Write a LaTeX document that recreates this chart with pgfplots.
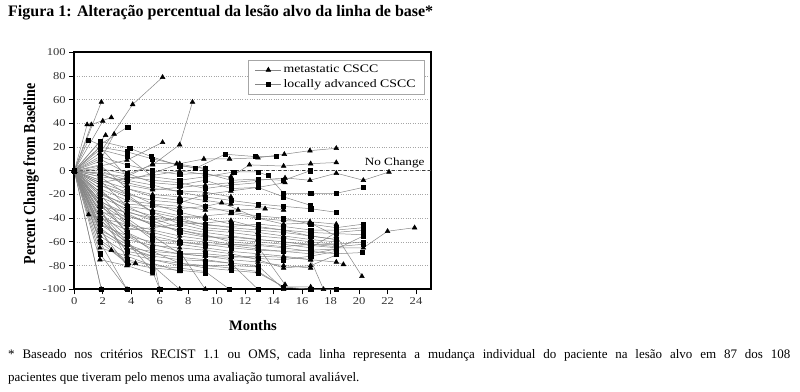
\documentclass[border=0pt]{standalone}
\usepackage{fontspec}
\setmainfont{Liberation Serif}
\newfontfamily\widefont[FakeStretch=1.2]{Liberation Serif}
\usepackage{pgfplots}
\pgfplotsset{compat=1.18}
\begin{document}
\begin{tikzpicture}[x=1pt,y=1pt]
\useasboundingbox (0pt,0pt) rectangle (800pt,391pt);
\node[anchor=base west, inner sep=0, font=\bfseries\fontsize{16}{18}\selectfont] at (8pt,374pt) {Figura 1: Alteração percentual da lesão alvo da linha de base*};
\begin{axis}[
  at={(74.3pt,101.7pt)}, anchor=south west, scale only axis,
  width=356.4pt, height=237pt,
  xmin=0, xmax=25.03, ymin=-100, ymax=100,
  xtick={0,2,...,24}, ytick={-100,-80,...,100},
  tick align=outside, major tick length=5pt,
  xtick pos=bottom, ytick pos=left,
  axis line style={black, line width=1.8pt},
  tick style={black, line width=0.9pt},
  ymajorgrids, grid style={gray!70, dotted, line width=0.6pt},
  ticklabel style={font=\widefont\fontsize{10.5}{12}\selectfont, text=black!80},
  /pgf/number format/assume math mode=true,
  clip=false,
  met/.style={black!48, line width=0.5pt, mark=triangle*, mark size=2.7pt, mark options={black, fill=black, solid}},
  la/.style={black!48, line width=0.5pt, mark=square*, mark size=2.1pt, mark options={black, fill=black, solid}},
  legend image code/.code={\draw[mark repeat=2,mark phase=2] plot coordinates {(0pt,0pt) (13pt,0pt) (26pt,0pt)};},
  legend style={at={(0.487,0.967)}, anchor=north west, draw=gray!70, line width=0.5pt, font=\widefont\fontsize{11.5}{13}\selectfont, inner xsep=7pt, inner ysep=3pt, row sep=1pt, cells={anchor=west}},
]
\addlegendimage{met}
\addlegendentry{metastatic CSCC}
\addlegendimage{la}
\addlegendentry{locally advanced CSCC}
\addplot[forget plot, black!75, dashed, line width=0.8pt] coordinates {(0,0) (25.03,0)};
\node[font=\widefont\fontsize{11}{12}\selectfont] at (axis cs:22.5,7) {No Change};
\pgfplotsset{every axis plot/.append style={forget plot}}
% metastatic
\addplot[met] coordinates {(0,0)(1.9,58)};
\addplot[met] coordinates {(0,0)(1.8,15)(4.1,56)(6.2,79)};
\addplot[met] coordinates {(0,0)(0.9,39)};
\addplot[met] coordinates {(0,0)(1.2,39)(2.6,45)};
\addplot[met] coordinates {(0,0)(2.0,42)};
\addplot[met] coordinates {(0,0)(2.2,30)};
\addplot[met] coordinates {(0,0)(1.8,8)(2.8,31)};
\addplot[met] coordinates {(0,0)(1.8,4)(3.7,9)(6.2,24)};
\addplot[met] coordinates {(0,0)(1.8,2)(3.7,-3)(5.5,5)(7.4,22)(8.3,58)};
\addplot[met] coordinates {(0,0)(1.8,-5)(3.7,-8)(5.5,-2)(7.4,6)(9.1,10)(10.9,10)(12.9,11)(14.75,14)(16.55,17)(18.4,19)};
\addplot[met] coordinates {(0,0)(1.8,-10)(3.7,-6)(5.5,-4)(7.4,0)(9.2,-3)(11,-5)(12.3,5)(14.7,4)(16.6,6)(18.4,7)};
\addplot[met] coordinates {(0,0)(1.8,-2)(3.7,-12)(5.5,-16)(7.4,-14)(9.2,-12)(11.0,-10)(12.9,-8)(14.8,-6)(16.55,-8)(18.4,-2)(20.3,-8)(22.1,-1)};
\addplot[met] coordinates {(0,0)(1.0,-37)(1.8,-40)(3.7,-45)};
\addplot[met] coordinates {(0,0)(1.8,-75)(3.7,-80)};
\addplot[met] coordinates {(0,0)(2.6,-67)(3.8,-78)};
\addplot[met] coordinates {(0,0)(1.8,-30)(3.7,-35)(5.5,-40)(7.4,-48)(9.2,-52)(11,-55)(12.9,-58)(14.7,-60)(16.6,-63)(18.4,-65)(20.3,-65)(22,-51)(23.9,-48)};
\addplot[met] coordinates {(0,0)(1.8,-20)(3.7,-28)(5.5,-30)(7.4,-32)(9.2,-30)(10.35,-27)(12.9,-40)(14.7,-45)(16.55,-44)(18.4,-55)(20.2,-89)};
\addplot[met] coordinates {(0,0)(1.8,-15)(3.7,-25)(5.5,-28)(7.4,-30)(9.2,-33)(11.5,-33)(13.4,-32)};
\addplot[met] coordinates {(0,0)(1.8,-45)(3.7,-55)(5.5,-60)(7.4,-62)(9.2,-65)(11,-68)(12.9,-70)(14.7,-72)(16.6,-75)(18.4,-77)(18.9,-79)};
\addplot[met] coordinates {(0,0)(1.8,-50)(3.7,-80)(5.5,-87)};
\addplot[met] coordinates {(0,0)(1.8,-60)(3.7,-100)};
\addplot[met] coordinates {(0,0)(1.9,-100)};
\addplot[met] coordinates {(0,0)(1.8,-35)(3.7,-60)(5.5,-78)(7.4,-85)};
\addplot[met] coordinates {(0,0)(1.8,-25)(3.7,-40)(5.5,-55)(7.4,-70)(9.2,-72)(11,-75)(12.9,-77)(14.7,-80)(16.6,-82)};
\addplot[met] coordinates {(0,0)(1.8,-40)(3.7,-50)(5.5,-48)(7.4,-45)(9.2,-44)(11,-42)(12.9,-48)(14.7,-50)(16.6,-55)(18.4,-58)};
\addplot[met] coordinates {(0,0)(1.8,-55)(3.7,-70)(5.5,-75)(7.4,-78)(9.2,-80)(11,-82)(12.9,-85)(14.7,-98)(16.6,-98)};
\addplot[met] coordinates {(0,0)(1.8,-30)(3.7,-45)(5.5,-50)(7.4,-55)(9.2,-58)(11,-62)(12.9,-64)(14.8,-96)};
\addplot[met] coordinates {(0,0)(1.8,-12)(3.7,-20)(5.5,-25)(7.4,-27)(9.2,-20)(11,-17)(12.9,-14)(14.8,-10)};
\addplot[met] coordinates {(0,0)(1.8,-35)(3.7,-38)(5.5,-44)(7.4,-40)(9.2,-38)(11,-36)(12.9,-40)(14.7,-42)(16.55,-43)(18.4,-45)};
\addplot[met] coordinates {(0,0)(1.8,-65)(3.7,-72)(5.5,-80)(7.4,-100)};
\addplot[met] coordinates {(0,0)(1.8,-48)(3.7,-65)(5.5,-72)(6.0,-100)};
\addplot[met] coordinates {(0,0)(1.8,-22)(3.7,-32)(5.5,-38)(7.4,-42)(9.2,-48)(11,-50)(12.9,-52)(14.7,-55)(16.6,-58)(18.4,-60)};
\addplot[met] coordinates {(0,0)(1.8,-8)(3.7,-15)(5.5,-20)(7.4,-22)(9.2,-25)(11,-28)(12.9,-30)(14.7,-33)};
\addplot[met] coordinates {(0,0)(1.8,-42)(3.7,-58)(5.5,-63)(7.4,-65)(9.2,-67)(11,-70)(12.9,-75)(14.7,-82)(16.6,-80)(18.4,-71)};
\addplot[met] coordinates {(0,0)(1.8,-33)(3.7,-48)(5.5,-52)(7.4,-58)(9.2,-60)(11,-63)(12.9,-66)(14.7,-68)(16.6,-70)(18.4,-66)};
\addplot[met] coordinates {(0,0)(1.8,-18)(3.7,-30)(5.5,-33)(7.4,-38)(9.2,-40)};
\addplot[met] coordinates {(0,0)(1.8,-28)(3.7,-52)(5.5,-62)(7.4,-68)(9.2,-100)};
\addplot[met] coordinates {(0,0)(1.8,-38)(3.7,-62)(5.5,-70)(7.4,-73)(9.2,-75)(11,-78)(12.9,-80)(14.7,-100)};
\addplot[met] coordinates {(0,0)(1.8,-3)(3.7,-10)(5.5,-15)(7.4,-17)(9.2,-18)(11,-22)};
\addplot[met] coordinates {(0,0)(1.8,-52)(3.7,-65)(5.5,-68)(7.4,-70)(9.2,-72)(11,-73)(12.9,-72)(14.7,-73)(16.6,-75)(17.5,-100)};
\addplot[met] coordinates {(0,0)(1.8,20)(3.7,-5)(5.5,6)(7.2,6)(9.2,2)};
\addplot[met] coordinates {(0,0)(1.8,-58)(3.7,-76)(4.3,-78)};
\addplot[met] coordinates {(0,0)(1.8,-26)(3.7,-36)(5.5,-46)(7.4,-50)(9.2,-54)(11,-60)(12.9,-62)(14.7,-64)(16.6,-62)(18.4,-62)};
% locally advanced
\addplot[la] coordinates {(0,0)(1.0,26)(1.8,22)(3.75,37)};
\addplot[la] coordinates {(0,0)(1.8,25)(3.9,19)(5.4,12)(7.4,4)(9.2,2)};
\addplot[la] coordinates {(0,0)(1.8,20)(3.7,16)(5.5,10)(7.4,5)(8.5,2)(10.6,14)(12.7,12)(14.2,12)};
\addplot[la] coordinates {(0,0)(1.8,18)(3.7,12)(5.5,-5)(7.4,-8)(9.2,-5)(11.2,-1)(12.9,-1)(13.6,-4)(14.7,-19)(16.6,-19)(18.4,-19)(20.3,-14)};
\addplot[la] coordinates {(0,0)(1.8,10)(3.7,-2)(5.5,-10)(7.4,-12)(9.2,-8)(11,-15)(12.9,-14)(14.7,-22)(16.55,-29)};
\addplot[la] coordinates {(0,0)(1.8,5)(3.7,-15)(5.5,-22)(7.4,-25)(9.2,-30)(11,-35)(12.9,-38)(14.7,-40)(16.6,-45)(18.4,-48)(20.3,-45)};
\addplot[la] coordinates {(0,0)(1.8,-5)(3.7,-20)(5.5,-35)(7.4,-45)(9.2,-50)(11,-52)(12.9,-55)(14.7,-57)(16.6,-60)(18.4,-62)(20.3,-60)};
\addplot[la] coordinates {(0,0)(1.8,-15)(3.7,-38)(5.5,-45)(7.4,-50)(9.2,-55)(11,-58)(12.9,-60)(14.7,-62)(16.6,-65)(18.4,-52)(20.3,-50)};
\addplot[la] coordinates {(0,0)(1.8,-28)(3.7,-42)(5.5,-58)(7.4,-60)(9.2,-62)(11,-65)(12.9,-67)(14.7,-68)(16.6,-67)(18.4,-66)(20.3,-55)};
\addplot[la] coordinates {(0,0)(1.8,-40)(3.7,-68)(5.5,-72)(7.4,-75)(9.2,-76)(11,-78)(12.9,-100)};
\addplot[la] coordinates {(0,0)(1.8,-30)(3.7,-75)(5.5,-80)(7.4,-82)(9.2,-85)(10.9,-100)};
\addplot[la] coordinates {(0,0)(1.8,-20)(3.7,-45)(5.5,-55)(7.4,-60)(9.2,-63)(11,-62)(12.9,-63)(14.7,-65)(16.6,-68)(18.4,-70)(20.2,-69)};
\addplot[la] coordinates {(0,0)(1.8,-8)(3.7,-30)(5.5,-40)(7.4,-42)(9.2,-45)(11,-48)(12.9,-50)(14.7,-52)(16.6,-55)(18.4,-58)};
\addplot[la] coordinates {(0,0)(1.8,-60)(3.7,-78)(5.5,-82)(7.4,-84)(9.2,-86)};
\addplot[la] coordinates {(0,0)(1.8,-10)(3.7,-18)(5.5,-28)(7.4,-35)(9.2,-40)(11,-45)(12.9,-47)(14.7,-50)(16.6,-52)(18.4,-53)(20.3,-54)};
\addplot[la] coordinates {(0,0)(1.8,-35)(3.7,-55)(5.5,-66)(7.4,-70)(9.2,-70)(11,-72)(12.9,-74)(14.7,-75)(16.6,-72)(18.4,-68)};
\addplot[la] coordinates {(0,0)(1.8,-2)(3.7,-5)(5.5,-8)(7.4,-10)(9.2,-15)(11,-12)(12.9,-10)};
\addplot[la] coordinates {(0,0)(1.8,-45)(3.7,-60)(5.5,-85)(6,-100)};
\addplot[la] coordinates {(0,0)(1.8,-70)(3.7,-100)};
\addplot[la] coordinates {(0,0)(1.9,-100)};
\addplot[la] coordinates {(0,0)(1.8,-25)(3.7,-52)(5.5,-68)(7.4,-78)(9.2,-82)(11,-84)(12.9,-86)(14.7,-98)(16.6,-100)(18.4,-100)};
\addplot[la] coordinates {(0,0)(1.8,0)(3.7,-8)(5.5,-12)(7.4,-18)(9.2,-22)(11,-25)(12.9,-28)(14.7,-30)(16.6,-32)(18.4,-35)};
\addplot[la] coordinates {(0,0)(1.8,-18)(3.7,-34)(5.5,-42)(7.4,-52)(9.2,-56)(11,-56)(12.9,-58)(14.7,-60)(16.6,-62)(18.4,-64)(20.3,-62)};
\addplot[la] coordinates {(0,0)(1.8,-50)(3.7,-62)(5.5,-75)(7.4,-80)(9.2,-80)(11,-80)(12.9,-81)};
\addplot[la] coordinates {(0,0)(1.8,12)(3.7,5)(5.5,0)(7.4,-3)(9.2,-2)(11,-8)(12.9,-7)(14.7,-8)(16.55,0)};
\addplot[la] coordinates {(0,0)(1.8,-12)(3.7,-22)(5.5,-35)(7.4,-40)(9.2,-46)(11,-47)(12.9,-45)(14.7,-47)(16.6,-50)(18.4,-50)(20.3,-48)};
\end{axis}
\node[rotate=90, font=\bfseries\fontsize{14}{15}\selectfont] at (31pt,217pt) {\scalebox{1}[1.2]{Percent Change from Baseline}};
\node[font=\bfseries\fontsize{14.5}{15}\selectfont] at (253pt,65pt) {Months};
\node[anchor=base west, inner sep=0, font=\fontsize{13}{15}\selectfont] at (8pt,33pt) {\makebox[782pt][s]{* Baseado nos critérios RECIST 1.1 ou OMS, cada linha representa a mudança individual do paciente na lesão alvo em 87 dos 108}};
\node[anchor=base west, inner sep=0, font=\fontsize{13}{15}\selectfont] at (8pt,10pt) {pacientes que tiveram pelo menos uma avaliação tumoral avaliável.};
\end{tikzpicture}
\end{document}
